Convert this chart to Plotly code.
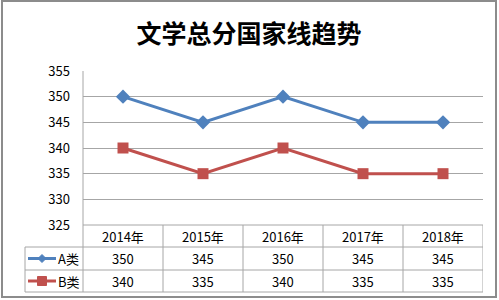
import plotly.graph_objects as go

years = ["2014年", "2015年", "2016年", "2017年", "2018年"]
series_names = ["A类", "B类"]
a_vals = [350, 345, 350, 345, 345]
b_vals = [340, 335, 340, 335, 335]
y_ticks = [325, 330, 335, 340, 345, 350, 355]

BLUE = "#4F81BD"
RED = "#C0504D"
GRID = "#A6A6A6"
FONT = "Noto Sans CJK SC, Liberation Sans, sans-serif"

W, H = 499, 300
L, R, T, B = 83, 483, 71, 225

def px(x):
    return (x - L) / (R - L)

def py(y):
    return (B - y) / (B - T)

fig = go.Figure()
fig.add_trace(go.Scatter(x=years, y=a_vals, mode="lines+markers", name=series_names[0],
                         line=dict(color=BLUE, width=3),
                         marker=dict(symbol="diamond", size=11, color=BLUE)))
fig.add_trace(go.Scatter(x=years, y=b_vals, mode="lines+markers", name=series_names[1],
                         line=dict(color=RED, width=3),
                         marker=dict(symbol="square", size=11, color=RED)))

shapes = []
line_style = dict(color=GRID, width=1)
# outer frame
shapes.append(dict(type="rect", xref="paper", yref="paper", x0=px(2), x1=px(496), y0=py(297), y1=py(1),
                   line=dict(color="#8C8C8C", width=2), layer="below"))
# left axis line
shapes.append(dict(type="line", xref="paper", yref="paper", x0=0, x1=0, y0=py(292), y1=1, line=line_style))
# table horizontals
shapes.append(dict(type="line", xref="paper", yref="paper", x0=0, x1=1, y0=py(225), y1=py(225), line=line_style))
for yy in (247, 270, 292):
    shapes.append(dict(type="line", xref="paper", yref="paper", x0=px(25), x1=1, y0=py(yy), y1=py(yy), line=line_style))
# table verticals
for i in range(len(years)):
    xb = i + 0.5
    shapes.append(dict(type="line", xref="x", yref="paper", x0=xb, x1=xb, y0=py(292), y1=py(225), line=line_style))
shapes.append(dict(type="line", xref="paper", yref="paper", x0=px(25), x1=px(25), y0=py(292), y1=py(247), line=line_style))

annotations = []
row_y = [258.5, 281]
header_y = 236
cell_font = dict(size=13, color="#000", family=FONT)
for i, yr in enumerate(years):
    annotations.append(dict(x=yr, y=py(header_y), xref="x", yref="paper", text=yr, showarrow=False,
                            xanchor="center", yanchor="middle", font=cell_font))
for vals, ry in ((a_vals, row_y[0]), (b_vals, row_y[1])):
    for yr, v in zip(years, vals):
        annotations.append(dict(x=yr, y=py(ry), xref="x", yref="paper", text=str(v), showarrow=False,
                                xanchor="center", yanchor="middle", font=cell_font))
# legend keys in table
for name, ry, col, sym in ((series_names[0], row_y[0], BLUE, "diamond"), (series_names[1], row_y[1], RED, "square")):
    shapes.append(dict(type="line", xref="paper", yref="paper", x0=px(28), x1=px(56), y0=py(ry), y1=py(ry),
                       line=dict(color=col, width=3)))
    cx, cy = 42, ry
    if sym == "diamond":
        d = 4
        path = f"M {px(cx)},{py(cy-d)} L {px(cx+d)},{py(cy)} L {px(cx)},{py(cy+d)} L {px(cx-d)},{py(cy)} Z"
        shapes.append(dict(type="path", xref="paper", yref="paper", path=path, fillcolor=col, line=dict(color=col, width=1)))
    else:
        d = 4.5
        shapes.append(dict(type="rect", xref="paper", yref="paper", x0=px(cx-d), x1=px(cx+d), y0=py(cy+d), y1=py(cy-d),
                           fillcolor=col, line=dict(color=col, width=1)))
    annotations.append(dict(x=px(56), y=py(ry), xref="paper", yref="paper", text=name, showarrow=False,
                            xanchor="left", yanchor="middle", font=cell_font))

fig.update_layout(
    width=W, height=H,
    margin=dict(l=L, r=W - R, t=T, b=H - B),
    paper_bgcolor="white", plot_bgcolor="white",
    showlegend=False,
    title=dict(text="<b>文学总分国家线趋势</b>", x=249 / W, xref="container", xanchor="center",
               y=1 - 34 / H, yref="container", yanchor="middle",
               font=dict(size=25, color="#000", family=FONT)),
    xaxis=dict(type="category", range=[-0.5, 4.5], showticklabels=False, showgrid=False,
               zeroline=False, showline=False, ticks=""),
    yaxis=dict(range=[325, 355], tickvals=y_ticks, showgrid=True, gridcolor=GRID, gridwidth=1,
               zeroline=False, showline=False, ticks="", ticklabelstandoff=12,
               tickfont=cell_font),
    shapes=shapes,
    annotations=annotations,
)

fig.write_html("out.html")
